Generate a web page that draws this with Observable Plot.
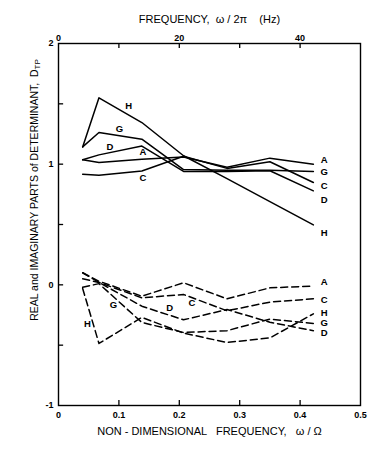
<!DOCTYPE html>
<html><head><meta charset="utf-8">
<script src="https://cdn.jsdelivr.net/npm/d3@7"></script>
<script src="https://cdn.jsdelivr.net/npm/@observablehq/plot@0.6"></script>
<style>body{margin:0;background:#fff} svg text{white-space:pre}</style>
</head><body><div id="chart"></div>
<script>
// Non-dimensional frequency (ω/Ω) at which the determinant was evaluated
const freqs = [0.04, 0.067, 0.138, 0.207, 0.279, 0.35, 0.422];

// Real parts (solid lines)
const realA = [1.036, 1.013, 1.04, 1.06, 0.975, 1.05, 1.0];
const realC = [0.917, 0.909, 0.944, 1.065, 0.965, 1.02, 0.848];
const realD = [1.036, 1.077, 1.15, 0.94, 0.94, 0.945, 0.779];
const realG = [1.143, 1.262, 1.207, 0.955, 0.95, 0.95, 0.94];
const realH = [1.143, 1.55, 1.345, 1.07, 0.88, 0.69, 0.497];

// Imaginary parts (dashed lines)
const imagA = [0.1, 0.03, -0.094, 0.017, -0.116, -0.025, -0.01];
const imagC = [0.05, 0.02, -0.108, -0.08, -0.215, -0.143, -0.116];
const imagD = [0.1, 0.02, -0.177, -0.29, -0.205, -0.31, -0.38];
const imagG = [-0.02, 0.01, -0.312, -0.395, -0.38, -0.284, -0.32];
const imagH = [-0.03, -0.486, -0.27, -0.40, -0.478, -0.44, -0.24];

// Axis ticks and labels
const xTicks = [0, 0.1, 0.2, 0.3, 0.4, 0.5];
const xTickLabels = ["0", "0.1", "0.2", "0.3", "0.4", "0.5"];
const hzTicks = [10, 20, 30, 40];
const hzLabels = [0, 20, 40];
const yTicks = [-1, -0.5, 0, 0.5, 1, 1.5, 2];
const yLabels = [-1, 0, 1, 2];

// Curve labels
const realMidNames = ["H", "G", "D", "A", "C"];
const realMidX = [0.116, 0.101, 0.085, 0.140, 0.140];
const realMidY = [1.483, 1.295, 1.146, 1.102, 0.884];
const realEndNames = ["A", "G", "C", "D", "H"];
const realEndY = [1.036, 0.939, 0.823, 0.704, 0.433];
const imagMidNames = ["G", "H", "D", "C"];
const imagMidX = [0.091, 0.048, 0.184, 0.221];
const imagMidY = [-0.166, -0.321, -0.193, -0.147];
const imagEndNames = ["A", "C", "H", "G", "D"];
const imagEndY = [0.027, -0.122, -0.229, -0.312, -0.395];
const endLabelX = 0.44;

const hzPerUnit = 100; // ω/2π (Hz) = 100 × ω/Ω

const toRows = (sets) => sets.flatMap(([s, vals]) => vals.map((v, i) => ({s, f: freqs[i], v})));
const realRows = toRows([["A", realA], ["C", realC], ["D", realD], ["G", realG], ["H", realH]]);
const imagRows = toRows([["A", imagA], ["C", imagC], ["D", imagD], ["G", imagG], ["H", imagH]]);

const lbl = (names, xs, ys) => names.map((n, i) => ({n, x: xs[i], y: ys[i]}));
const labels = [
  ...lbl(realMidNames, realMidX, realMidY),
  ...lbl(realEndNames, realEndNames.map(() => endLabelX), realEndY),
  ...lbl(imagMidNames, imagMidX, imagMidY),
  ...lbl(imagEndNames, imagEndNames.map(() => endLabelX), imagEndY)
];

const xMin = 0, xMax = 0.5, yMin = -1, yMax = 2;
const tickLenY = 0.042;   // inward tick length in y units
const tickLenX = 0.0085;  // inward tick length in x units

const font = "'Liberation Sans', Arial, Helvetica, sans-serif";

const chart = Plot.plot({
  width: 376,
  height: 454,
  marginLeft: 58,
  marginRight: 16,
  marginTop: 43,
  marginBottom: 49,
  style: {fontFamily: font, fontSize: "9px", color: "black", background: "white"},
  x: {domain: [xMin, xMax]},
  y: {domain: [yMin, yMax]},
  marks: [
    // inward ticks
    Plot.ruleX(xTicks.slice(1, -1), {x: d => d, y1: yMin, y2: yMin + tickLenY, strokeWidth: 1.3}),
    Plot.ruleX(hzTicks.map(h => h / hzPerUnit), {x: d => d, y1: yMax, y2: yMax - tickLenY, strokeWidth: 1.3}),
    Plot.ruleY(yTicks.slice(1, -1), {y: d => d, x1: xMin, x2: xMin + tickLenX, strokeWidth: 1.3}),
    // tick labels
    Plot.axisX({anchor: "bottom", ticks: xTicks, tickSize: 0, tickPadding: 6, fontWeight: "bold",
      tickFormat: (d) => xTickLabels[xTicks.indexOf(d)] ?? ""}),
    Plot.axisX({anchor: "top", ticks: hzLabels.map(h => h / hzPerUnit), tickSize: 0, tickPadding: 3, fontWeight: "bold",
      tickFormat: (d) => String(Math.round(d * hzPerUnit))}),
    Plot.axisY({anchor: "left", ticks: yLabels, tickSize: 0, tickPadding: 5, fontWeight: "bold",
      tickFormat: (d) => String(d)}),
    Plot.frame({strokeWidth: 1.4}),
    Plot.line(realRows, {x: "f", y: "v", z: "s", stroke: "black", strokeWidth: 1.5}),
    Plot.line(imagRows, {x: "f", y: "v", z: "s", stroke: "black", strokeWidth: 1.5, strokeDasharray: "7,4"}),
    Plot.text(labels, {x: "x", y: "y", text: "n", fontWeight: "bold", fontSize: 9.5, fill: "black"}),
    Plot.text(["FREQUENCY,\u00a0 ω / 2π \u00a0\u00a0 (Hz)"], {text: d => d, frameAnchor: "top", dy: -28, fontSize: 11, fill: "black"}),
    Plot.text(["NON - DIMENSIONAL \u00a0 FREQUENCY, \u00a0 ω / Ω"], {text: d => d, frameAnchor: "bottom", dy: 29, fontSize: 11, fill: "black"})
  ]
});

document.getElementById("chart").appendChild(chart);

// rotated y-axis title with subscript
const svg = d3.select(chart);
const t = svg.append("text")
  .attr("transform", "translate(35,190) rotate(-90)")
  .attr("text-anchor", "middle")
  .attr("dominant-baseline", "middle")
  .attr("font-size", 10.5)
  .attr("font-family", font)
  .attr("fill", "black");
t.append("tspan").text("REAL and IMAGINARY PARTS of DETERMINANT,\u00a0 D");
t.append("tspan").attr("font-size", 8).attr("dy", 3).text("TP");
</script>
</body></html>
